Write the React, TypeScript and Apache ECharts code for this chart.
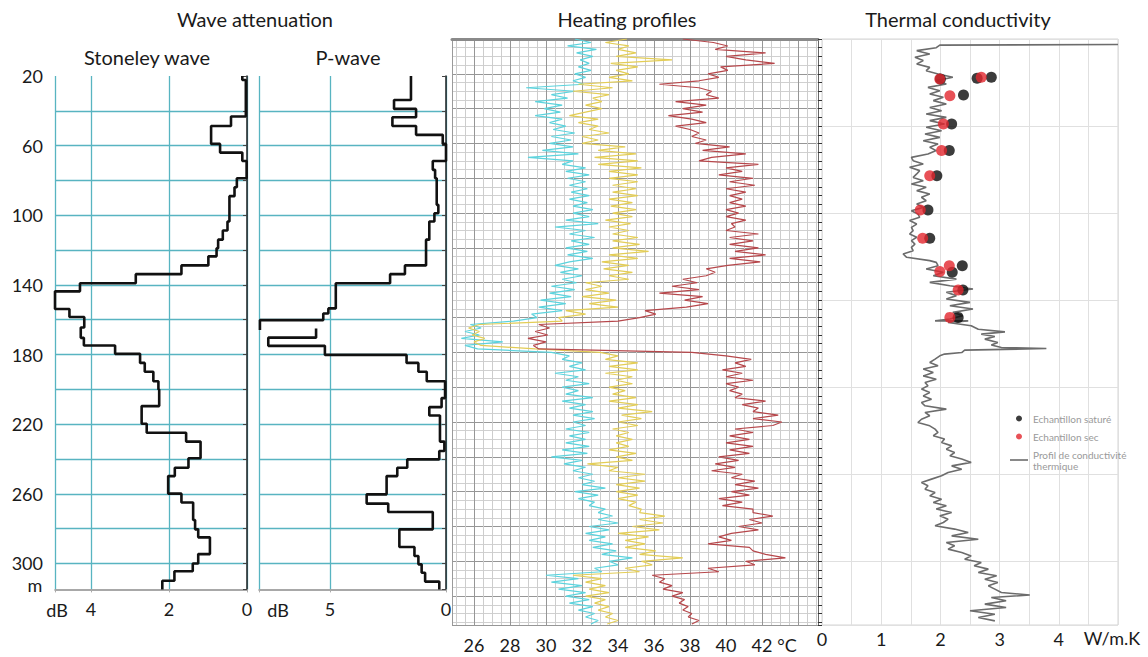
import React, { useEffect, useRef } from 'react';
import * as echarts from 'echarts';

const FONT = 'Lato, "Open Sans", sans-serif';
const CYAN_GRID = '#58b4c1';

// ---- tick labels ----
const depthLabels = [20, 60, 100, 140, 180, 220, 260, 300];
const stoneleyLabels = [4, 2, 0];
const pwaveLabels = [5, 0];
const heatingLabels = [26, 28, 30, 32, 34, 36, 38, 40, 42];
const thermalLabels = [0, 1, 2, 3, 4];

// ---- Stoneley wave attenuation (dB), step profile: depth breaks / values ----
const stoneleyDepth = [20, 22.3, 43.3, 48.7, 59, 64, 68.8, 78.7, 83.9, 89, 103.6, 108.7, 114, 119, 123.6, 128.8, 133.8, 139, 143.7, 153.8, 158.4, 164.5, 170.4, 174.8, 179.6, 184.8, 189.9, 195.3, 200, 209.6, 219.7, 224.9, 230, 239.6, 245, 249.8, 259.9, 265, 275, 280.4, 285, 294.6, 300, 304.5, 309.9, 314.9];
const stoneleyDb = [0.12, 0.03, 0.41, 0.92, 0.69, 0.12, 0.01, 0.26, 0.32, 0.45, 0.5, 0.62, 0.74, 0.78, 0.99, 1.68, 2.85, 4.28, 4.92, 4.55, 4.17, 4.26, 4.18, 3.38, 2.74, 2.62, 2.4, 2.27, 2.25, 2.7, 2.57, 1.56, 1.19, 1.5, 1.85, 2.02, 1.68, 1.38, 1.33, 1.25, 0.95, 1.25, 1.39, 1.86, 2.17];

// ---- P-wave attenuation (dB), two step pieces ----
const pwaveDepthA = [20, 33.8, 38.9, 43.7, 48.7, 53.8, 59, 68.8, 73.9, 78.7, 94, 98.8, 103.6, 114, 128.8, 133.8, 139, 153.5, 156.4, 160.2, 165.9];
const pwaveDbA = [1.51, 2.24, 1.29, 2.31, 1.29, 0.14, 0.0, 0.57, 0.47, 0.4, 0.33, 0.5, 0.72, 0.86, 1.77, 2.41, 4.75, 5.07, 5.29, 8.02];
const pwaveDepthB = [165, 170.3, 175, 180.2, 184.8, 189.9, 195.3, 205, 210.2, 215, 230, 235.4, 240.2, 245, 249.8, 260.3, 265.6, 270.4, 280.4, 290.5, 295.7, 300.5, 305.3, 310.4, 314.9];
const pwaveDbB = [5.6, 7.66, 5.22, 1.7, 1.19, 0.83, 0.04, 0.19, 0.72, 0.26, 0.07, 0.29, 1.67, 2.1, 2.56, 3.42, 2.49, 0.57, 2.01, 1.36, 1.19, 1.05, 0.9, 0.29];

// ---- Heating profiles (°C) sampled every 2 m from 0 m ----
const heatingStep = 2;
const heatingCyan = [
  31.6, 32.5, 31.2, 32.8, 31.7, 32.6, 31.9, 32.4, 31.8, 32.5,
  31.6, 32.2, 31.5, 32.1, 28.9, 31.6, 30.3, 31.2, 29.4, 30.9,
  29.9, 30.8, 29.4, 30.9, 30.2, 31.1, 30.4, 31.6, 30.3, 31.4,
  30.2, 31.5, 29.8, 31.8, 29.0, 31.5, 30.9, 32.2, 31.1, 32.4,
  31.2, 32.2, 31.3, 32.3, 31.4, 32.4, 31.3, 32.3, 31.5, 32.6,
  31.5, 32.4, 31.1, 32.9, 30.5, 32.2, 31.3, 32.7, 31.4, 32.4,
  31.1, 32.3, 31.2, 32.6, 31.3, 30.5, 31.8, 30.8, 32.0, 30.9,
  31.7, 30.3, 31.6, 30.2, 31.4, 29.7, 31.1, 29.6, 30.9, 29.2,
  29.5, 28.2, 25.8, 26.4, 25.5, 26.3, 25.3, 27.6, 25.5, 26.2,
  30.3, 31.3, 30.9, 32.0, 31.3, 32.2, 30.5, 31.8, 31.1, 32.4,
  30.9, 31.8, 31.1, 32.6, 30.9, 32.2, 31.3, 32.6, 31.5, 32.7,
  31.5, 32.2, 31.1, 32.4, 31.3, 32.2, 31.1, 32.4, 30.9, 32.3,
  30.3, 32.0, 31.0, 32.2, 31.5, 32.6, 31.8, 32.7, 32.0, 33.3,
  31.6, 32.9, 31.8, 32.7, 32.4, 33.3, 32.9, 33.7, 32.9, 34.0,
  32.4, 33.5, 32.2, 33.3, 32.4, 33.7, 32.6, 33.9, 33.1, 34.8,
  33.5, 34.0, 32.7, 33.1, 30.0, 31.8, 30.3, 32.0, 30.7, 32.2,
  31.1, 32.4, 31.3, 32.6, 31.8, 32.7, 32.2, 32.9, 32.5
];
const heatingYellow = [
  34.5, 33.3, 34.6, 34.0, 35.0, 33.9, 37.0, 33.6, 35.1, 33.9,
  34.6, 33.5, 34.8, 31.8, 33.7, 31.5, 33.5, 32.6, 33.1, 32.2,
  33.1, 32.2, 31.3, 32.9, 31.8, 32.9, 32.4, 33.5, 32.0, 32.9,
  32.0, 34.4, 32.9, 35.0, 32.7, 35.1, 32.9, 35.3, 33.5, 35.1,
  33.5, 35.1, 33.7, 35.0, 33.7, 35.1, 33.5, 34.8, 33.6, 35.0,
  33.7, 34.8, 33.3, 34.7, 33.5, 34.6, 33.7, 35.1, 33.7, 35.2,
  33.7, 35.7, 33.5, 35.1, 33.1, 34.6, 33.2, 34.8, 33.5, 34.6,
  32.2, 33.1, 32.2, 33.5, 32.0, 33.9, 32.4, 34.0, 31.1, 32.2,
  30.7, 30.9, 26.3, 25.7, 26.3, 25.9, 26.6, 26.0, 26.4, 29.4,
  33.0, 34.0, 33.3, 35.1, 33.5, 35.1, 33.3, 34.8, 33.9, 34.8,
  33.5, 34.4, 33.7, 35.0, 33.5, 35.1, 34.0, 35.9, 34.2, 35.3,
  34.0, 35.1, 33.7, 34.6, 33.9, 34.8, 33.9, 34.6, 33.5, 35.0,
  33.9, 34.8, 32.3, 34.0, 33.5, 35.5, 34.0, 35.5, 33.9, 35.2,
  33.9, 35.1, 34.0, 35.0, 34.6, 35.3, 35.2, 36.6, 35.2, 36.5,
  34.8, 36.3, 34.0, 35.7, 34.4, 35.5, 34.4, 36.1, 35.2, 37.6,
  35.3, 35.9, 34.4, 35.2, 31.5, 33.1, 32.2, 33.3, 32.4, 33.5,
  32.2, 33.3, 32.7, 33.5, 32.9, 33.7, 33.3, 34.0, 33.4
];
const heatingRed = [
  37.6, 39.3, 40.1, 39.4, 42.2, 40.0, 41.1, 42.7, 39.7, 40.1,
  39.0, 39.6, 38.5, 36.3, 38.5, 39.2, 38.9, 39.6, 37.2, 38.9,
  37.6, 38.7, 36.8, 38.1, 38.9, 37.2, 38.0, 38.5, 38.1, 38.9,
  38.3, 40.2, 38.7, 41.1, 39.2, 38.5, 41.8, 40.0, 40.9, 39.6,
  41.5, 40.2, 41.6, 40.0, 41.1, 40.2, 40.9, 40.2, 41.1, 40.0,
  40.7, 40.0, 41.1, 40.3, 40.5, 40.0, 41.8, 40.2, 41.5, 40.2,
  41.8, 40.5, 42.2, 40.2, 41.9, 40.1, 38.9, 39.4, 38.9, 37.6,
  38.4, 37.0, 38.5, 36.3, 38.7, 37.7, 39.0, 37.8, 35.5, 36.1,
  35.2, 34.0, 29.6, 30.2, 29.4, 30.1, 29.0, 30.0, 29.3, 29.6,
  38.1, 40.0, 41.4, 40.5, 41.1, 39.8, 40.9, 40.0, 41.5, 40.0,
  40.7, 40.2, 40.9, 40.5, 42.2, 40.9, 41.8, 41.5, 42.9, 41.5,
  43.1, 42.6, 40.5, 41.5, 40.2, 41.3, 40.0, 41.5, 40.2, 41.3,
  39.6, 40.7, 39.4, 40.5, 39.2, 40.9, 40.3, 41.6, 40.5, 41.8,
  40.3, 41.3, 39.6, 40.9, 39.8, 41.5, 41.5, 42.6, 41.3, 42.0,
  40.7, 41.8, 40.3, 39.6, 40.3, 39.0, 41.3, 41.5, 42.2, 43.3,
  41.1, 41.6, 39.0, 39.6, 35.9, 36.6, 36.3, 37.0, 36.5, 37.6,
  37.0, 37.7, 37.4, 37.9, 37.6, 38.1, 37.9, 38.5, 38.1
];

// ---- Thermal conductivity profile: [W/m.K, depth m] ----
const thermalProfile = [
  [5.0, 3.2], [1.99, 3.5], [1.93, 5.0], [1.6, 6.7], [1.82, 8.6], [1.57, 10.5], [1.71, 12.4], [1.6, 14.4], [1.82, 16.3], [1.76, 18.2],
  [1.96, 20.1], [2.21, 22.0], [1.93, 23.9], [2.1, 25.8], [1.79, 27.8], [1.99, 29.7], [1.82, 31.6], [2.05, 33.5], [1.88, 35.4], [2.1, 37.3],
  [1.82, 39.3], [2.02, 41.2], [1.76, 43.1], [2.1, 45.0], [1.82, 46.9], [2.07, 48.8], [1.76, 50.7], [2.02, 52.7], [1.74, 54.6], [1.99, 56.5],
  [1.71, 58.4], [1.96, 60.3], [1.82, 62.2], [1.93, 64.1], [1.79, 66.1], [1.51, 68.0], [1.54, 69.9], [1.71, 71.8], [1.48, 73.7], [1.65, 75.6],
  [1.6, 77.5], [1.54, 79.5], [1.71, 81.4], [1.51, 83.3], [1.76, 85.2], [1.6, 87.1], [1.82, 89.0], [1.68, 90.9], [1.76, 92.9], [1.6, 94.8],
  [1.71, 96.7], [1.51, 98.6], [1.62, 100.5], [1.65, 102.4], [1.48, 104.3], [1.6, 106.3], [1.51, 108.2], [1.54, 110.1], [1.48, 112.0], [1.6, 113.9],
  [1.51, 115.8], [1.57, 117.8], [1.51, 119.7], [1.54, 121.6], [1.37, 123.5], [1.43, 125.4], [1.82, 127.3], [1.93, 128.3], [1.96, 130.2], [1.76, 132.1],
  [2.05, 134.0], [1.88, 136.0], [2.27, 137.9], [1.82, 139.8], [2.16, 141.7], [2.55, 143.6], [2.1, 145.5], [2.27, 147.4], [2.1, 149.3], [2.5, 151.3],
  [2.16, 153.2], [2.55, 155.1], [2.21, 157.0], [2.38, 158.9], [2.16, 160.8], [1.91, 161.9], [2.47, 161.9], [2.13, 162.8], [2.52, 164.7], [2.64, 166.7],
  [3.09, 168.2], [2.69, 169.5], [2.92, 170.9], [2.75, 172.4], [2.97, 174.3], [2.86, 175.8], [3.03, 177.2], [3.79, 177.8], [2.41, 178.7], [2.36, 180.1],
  [2.07, 181.0], [1.99, 182.0], [1.91, 183.9], [1.82, 185.8], [1.96, 187.7], [1.71, 189.6], [1.88, 191.5], [1.71, 193.5], [1.93, 195.4], [1.74, 197.3],
  [1.79, 199.2], [1.68, 201.1], [1.82, 203.0], [1.71, 205.0], [1.85, 206.9], [1.68, 208.8], [1.74, 210.7], [2.1, 212.6], [1.74, 214.5], [1.82, 216.4],
  [1.68, 218.4], [1.62, 220.3], [1.82, 222.2], [1.91, 224.1], [1.96, 226.0], [1.88, 227.9], [2.07, 229.8], [2.02, 231.8], [2.19, 233.7], [2.1, 235.6],
  [2.24, 237.5], [2.16, 239.4], [2.36, 241.3], [2.52, 243.2], [2.19, 245.2], [2.36, 247.1], [2.13, 249.0], [2.02, 250.9], [1.85, 252.8], [1.68, 254.7],
  [1.79, 256.6], [1.74, 258.6], [1.91, 260.5], [1.82, 262.4], [2.02, 264.3], [1.88, 266.2], [2.1, 268.1], [1.93, 270.0], [2.19, 272.0], [1.99, 273.9],
  [2.13, 275.8], [2.05, 277.7], [1.91, 279.6], [2.24, 281.5], [2.47, 283.5], [2.19, 285.4], [2.64, 287.3], [2.1, 289.2], [2.24, 291.1], [2.13, 293.0],
  [2.36, 294.9], [2.52, 296.9], [2.41, 298.8], [2.69, 300.7], [2.57, 302.6], [2.81, 304.5], [2.64, 306.4], [2.95, 308.3], [2.75, 310.3], [2.97, 312.2],
  [2.81, 314.1], [2.92, 316.0], [3.03, 317.9], [3.51, 319.4], [2.86, 320.8], [3.11, 322.7], [2.75, 324.6], [3.11, 326.5], [2.5, 328.4], [2.92, 330.4],
  [2.64, 332.3], [2.92, 334.2]
];
const saturatedSamples = [
  [2.0, 23.0], [2.62, 22.6], [2.86, 22.0], [2.39, 32.2], [2.19, 48.8], [2.15, 64.1], [1.94, 78.5], [1.79, 98.2],
  [1.82, 114.5], [2.37, 130.2], [2.2, 134.0], [2.38, 144.2], [2.3, 159.9]
];
const drySamples = [
  [1.99, 23.0], [2.69, 22.0], [2.16, 32.6], [2.05, 48.8], [2.02, 64.1], [1.82, 78.5], [1.66, 98.2], [1.7, 114.5],
  [2.15, 130.2], [1.99, 133.6], [2.3, 144.2], [2.16, 159.9]
];

function steps(depths: number[], values: number[]) {
  const pts: number[][] = [];
  for (let i = 0; i < values.length; i++) {
    pts.push([values[i], depths[i]]);
    pts.push([values[i], depths[i + 1]]);
  }
  return pts;
}
function sampled(values: number[]) {
  return values.map((v, i) => [v, i * heatingStep]);
}

const heatMinor: number[] = [];
for (let v = 25; v <= 45; v += 0.5) heatMinor.push(v);
const heatMajor: number[] = [];
for (let v = 26; v <= 44; v += 2) heatMajor.push(v);

function buildOption() {
  const K = 1.741;
  const leftMin = 20, leftMax = 314.9;
  const rightMax = 336.6;
  const labelStyle = { fontFamily: FONT, fontSize: 18, color: '#1a1a1a' };
  const txt = (text: string, x: number, y: number, size = 18) => ({
    type: 'text', x, y, silent: true,
    style: { text, fill: '#1a1a1a', fontFamily: FONT, fontSize: size, align: 'center', verticalAlign: 'middle' }
  });
  const depthAxis = (grid: number, withLabels: boolean) => ({
    type: 'value', gridIndex: grid, min: leftMin, max: leftMax, inverse: true, interval: 20,
    axisLine: { show: true, lineStyle: { color: '#222', width: 1.5 } },
    axisTick: { show: true, length: 4, lineStyle: { color: '#444' } },
    axisLabel: {
      show: withLabels, margin: 12, ...labelStyle,
      formatter: (v: number) => (depthLabels.includes(v) ? String(v) : '')
    },
    splitLine: { show: true, showMinLine: false, showMaxLine: false, lineStyle: { color: CYAN_GRID, width: 1.3 } }
  });
  const dbAxis = (grid: number, max: number, interval: number, labels: number[]) => ({
    type: 'value', gridIndex: grid, min: 0, max, inverse: true, interval,
    axisLine: { show: true, lineStyle: { color: '#8c8c8c', width: 1.5 } },
    axisTick: { show: true, length: 3, lineStyle: { color: '#aaa' } },
    axisLabel: { margin: 11, ...labelStyle, formatter: (v: number) => (labels.includes(v) ? String(v) : '') },
    splitLine: { show: true, lineStyle: { color: CYAN_GRID, width: 1.3 } }
  });

  return {
    animation: false,
    backgroundColor: '#ffffff',
    grid: [
      { left: 55, top: 76, width: 192, height: (leftMax - leftMin) * K },
      { left: 259, top: 76, width: 187, height: (leftMax - leftMin) * K },
      { left: 452, top: 39, width: 366, height: rightMax * K },
      { left: 822, top: 39, width: 296, height: rightMax * K, show: true, borderColor: '#d4d4d4', borderWidth: 1 }
    ],
    xAxis: [
      dbAxis(0, 4.92, 2, stoneleyLabels),
      dbAxis(1, 8.06, 5, pwaveLabels),
      {
        type: 'value', gridIndex: 2, min: 24.78, max: 45.11, position: 'bottom',
        axisLine: { show: true, lineStyle: { color: '#999' } },
        axisTick: { show: false, customValues: heatMinor },
        axisLabel: { margin: 11, ...labelStyle, customValues: heatingLabels },
        splitLine: { show: true, lineStyle: { color: '#cdcdcd' } }
      },
      {
        type: 'value', gridIndex: 2, min: 24.78, max: 45.11, position: 'top',
        axisLine: { show: true, lineStyle: { color: '#8a8a8a', width: 3 } },
        axisTick: { show: false, customValues: heatMajor },
        axisLabel: { show: false },
        splitLine: { show: true, lineStyle: { color: '#969696' } }
      },
      {
        type: 'value', gridIndex: 3, min: 0, max: 5, interval: 0.5,
        axisLine: { show: false }, axisTick: { show: false },
        axisLabel: { margin: 5, ...labelStyle, formatter: (v: number) => (thermalLabels.includes(v) ? String(v) : '') },
        splitLine: { show: true, lineStyle: { color: '#e0e0e0' } }
      }
    ],
    yAxis: [
      depthAxis(0, true),
      depthAxis(1, false),
      {
        type: 'value', gridIndex: 2, min: 0, max: rightMax, inverse: true, interval: 5, position: 'right',
        axisLine: { show: true, lineStyle: { color: '#666' } },
        axisTick: { show: true, length: 4, lineStyle: { color: '#333' } },
        axisLabel: { show: false },
        splitLine: { show: true, lineStyle: { color: '#d0d0d0' } }
      },
      {
        type: 'value', gridIndex: 2, min: 0, max: rightMax, inverse: true, interval: 20, position: 'left',
        axisLine: { show: true, lineStyle: { color: '#9a9a9a' } },
        axisTick: { show: false }, axisLabel: { show: false },
        splitLine: { show: true, lineStyle: { color: '#969696' } }
      },
      {
        type: 'value', gridIndex: 3, min: 0, max: rightMax, inverse: true, interval: 50,
        axisLine: { show: false }, axisTick: { show: false }, axisLabel: { show: false },
        splitLine: { show: true, lineStyle: { color: '#e0e0e0' } }
      }
    ],
    legend: {
      data: [
        { name: 'Echantillon saturé' },
        { name: 'Echantillon sec' },
        { name: 'Profil de conductivité thermique', icon: 'path://M0,0h18v1.6h-18z' }
      ],
      orient: 'vertical', left: 1005, top: 408, itemWidth: 18, itemHeight: 6, itemGap: 7,
      selectedMode: false,
      textStyle: { fontFamily: FONT, fontSize: 10, color: '#9a9a9a', lineHeight: 11 },
      formatter: (name: string) => (name === 'Profil de conductivité thermique' ? 'Profil de conductivité\nthermique' : name)
    },
    series: [
      {
        name: 'Stoneley wave', type: 'line', xAxisIndex: 0, yAxisIndex: 0, data: steps(stoneleyDepth, stoneleyDb),
        showSymbol: false, symbol: 'none', lineStyle: { color: '#111', width: 2.6 }, z: 5
      },
      {
        name: 'P-wave', type: 'line', xAxisIndex: 1, yAxisIndex: 1, data: steps(pwaveDepthA, pwaveDbA),
        showSymbol: false, symbol: 'none', lineStyle: { color: '#111', width: 2.6 }, z: 5
      },
      {
        name: 'P-wave 2', type: 'line', xAxisIndex: 1, yAxisIndex: 1, data: steps(pwaveDepthB, pwaveDbB),
        showSymbol: false, symbol: 'none', lineStyle: { color: '#111', width: 2.6 }, z: 5
      },
      {
        name: 'Heating cyan', type: 'line', xAxisIndex: 2, yAxisIndex: 2, data: sampled(heatingCyan),
        showSymbol: false, symbol: 'none', lineStyle: { color: '#5cd3dd', width: 1.2 }, z: 4
      },
      {
        name: 'Heating yellow', type: 'line', xAxisIndex: 2, yAxisIndex: 2, data: sampled(heatingYellow),
        showSymbol: false, symbol: 'none', lineStyle: { color: '#e3cd56', width: 1.2 }, z: 4
      },
      {
        name: 'Heating red', type: 'line', xAxisIndex: 2, yAxisIndex: 2, data: sampled(heatingRed),
        showSymbol: false, symbol: 'none', lineStyle: { color: '#b6474b', width: 1.2 }, z: 4
      },
      {
        name: 'Profil de conductivité thermique', type: 'line', xAxisIndex: 4, yAxisIndex: 4, data: thermalProfile,
        showSymbol: false, symbol: 'none', lineStyle: { color: '#6c6c6c', width: 1.6 }, itemStyle: { color: '#6c6c6c' }, z: 3
      },
      {
        name: 'Echantillon saturé', type: 'scatter', xAxisIndex: 4, yAxisIndex: 4, data: saturatedSamples,
        symbolSize: 11, itemStyle: { color: '#0b0b0b' }, z: 4
      },
      {
        name: 'Echantillon sec', type: 'scatter', xAxisIndex: 4, yAxisIndex: 4, data: drySamples,
        symbolSize: 11, itemStyle: { color: '#e2262d' }, z: 5
      }
    ],
    graphic: [
      txt('Wave attenuation', 255, 19, 20),
      txt('Heating profiles', 627, 19, 20),
      txt('Thermal conductivity', 958, 19, 20),
      txt('Stoneley wave', 147, 57, 20),
      txt('P-wave', 348, 57, 20),
      txt('dB', 57, 610),
      txt('dB', 278, 610),
      txt('°C', 787, 645),
      txt('W/m.K', 1112, 638),
      txt('m', 35, 585)
    ]
  };
}

export default function App() {
  const ref = useRef<HTMLDivElement>(null);
  useEffect(() => {
    if (!ref.current) return;
    const chart = echarts.init(ref.current, null, { renderer: 'svg' });
    chart.setOption(buildOption() as any);
    return () => chart.dispose();
  }, []);
  return (
    <div
      ref={ref}
      style={{ position: 'fixed', left: 0, top: 0, width: 1148, height: 657, background: '#fff' }}
    />
  );
}
